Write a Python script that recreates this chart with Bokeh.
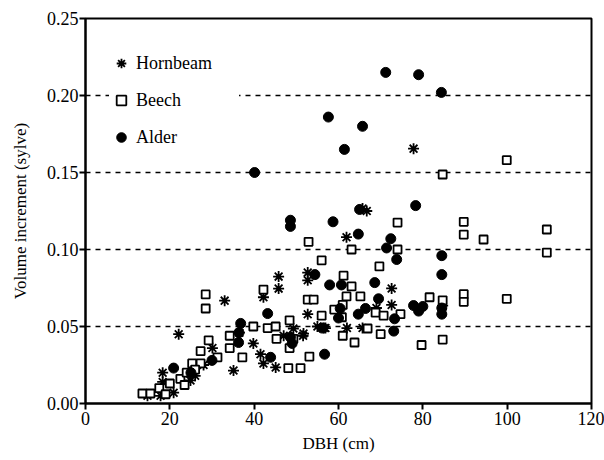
from bokeh.plotting import figure
from bokeh.models import Span, FixedTicker, PrintfTickFormatter, Legend, LegendItem, Range1d
from bokeh.embed import file_html
from bokeh.resources import INLINE

# Hornbeam
horn_x = [77.8, 65.7, 66.7, 61.9, 72.6, 72.6, 52.7, 52.7, 52.7, 56.5, 51.7, 65.7, 84.7, 45.8, 45.8,
          33.0, 22.1, 42.2, 36.5, 39.8, 41.5, 42.2, 45.1, 35.1, 30.1, 24.9, 18.3, 18.3, 20.9, 17.8,
          14.7, 49.3, 51.6, 56.9, 55.0, 62.0, 69.0, 47.0, 26.0, 28.0]
horn_y = [0.1655, 0.1266, 0.125, 0.108, 0.0747, 0.064, 0.085, 0.080, 0.058, 0.049, 0.0454, 0.049, 0.0636, 0.0824, 0.0746,
          0.0668, 0.045, 0.069, 0.046, 0.039, 0.032, 0.026, 0.0234, 0.0214, 0.036, 0.015, 0.020, 0.014, 0.007, 0.005,
          0.005, 0.0487, 0.044, 0.049, 0.050, 0.049, 0.062, 0.044, 0.018, 0.025]

# Beech
beech_x = [99.9, 84.7, 52.9, 56.0, 74.0, 89.7, 89.7, 94.4, 109.4, 109.4, 63.1, 74.0, 69.7, 61.2, 63.1,
           52.7, 54.1, 61.9, 65.2, 81.6, 84.7, 89.7, 89.7, 99.9, 61.0, 59.0, 60.8, 56.0, 68.8, 70.7,
           74.7, 66.9, 70.0, 61.0, 63.8, 79.7, 84.7, 53.1, 51.0, 48.1, 28.5, 28.5, 42.2, 48.4, 39.8,
           43.2, 45.1, 45.3, 48.4, 49.3, 34.2, 34.2, 37.2, 29.2, 27.3, 31.3, 25.3, 27.3, 13.5, 15.4,
           17.5, 20.0, 22.5, 24.0, 26.0, 19.0, 23.5]
beech_y = [0.158, 0.1487, 0.105, 0.093, 0.1175, 0.118, 0.1097, 0.1065, 0.113, 0.098, 0.100, 0.100, 0.089, 0.083, 0.076,
           0.0675, 0.0675, 0.0695, 0.0695, 0.069, 0.067, 0.071, 0.066, 0.068, 0.064, 0.061, 0.056, 0.057, 0.059, 0.057,
           0.058, 0.0487, 0.045, 0.044, 0.0396, 0.038, 0.0415, 0.0305, 0.023, 0.023, 0.0708, 0.0617, 0.074, 0.054, 0.050,
           0.049, 0.050, 0.042, 0.036, 0.042, 0.044, 0.036, 0.030, 0.041, 0.034, 0.030, 0.026, 0.026, 0.0065, 0.0065,
           0.010, 0.013, 0.016, 0.020, 0.022, 0.006, 0.012]

# Alder
alder_x = [71.2, 79.0, 84.4, 57.6, 65.7, 61.4, 40.1, 48.6, 48.6, 58.7, 78.3, 64.7, 65.0, 72.4, 71.4,
           73.8, 84.5, 84.5, 54.4, 57.9, 60.7, 68.6, 69.5, 66.4, 64.7, 60.4, 60.0, 56.1, 73.3, 73.1,
           77.8, 79.0, 80.0, 84.5, 84.5, 56.7, 43.2, 36.8, 36.4, 36.3, 43.9, 48.6, 49.0, 20.9, 25.0, 30.0]
alder_y = [0.215, 0.2135, 0.202, 0.186, 0.180, 0.165, 0.150, 0.119, 0.115, 0.118, 0.1285, 0.110, 0.126, 0.107, 0.101,
           0.0935, 0.096, 0.0837, 0.0837, 0.077, 0.077, 0.0785, 0.068, 0.0617, 0.058, 0.0617, 0.0555, 0.049, 0.055, 0.047,
           0.0636, 0.060, 0.063, 0.062, 0.058, 0.032, 0.0584, 0.052, 0.046, 0.0396, 0.030, 0.043, 0.039, 0.023, 0.020, 0.028]

x_ticks = [0, 20, 40, 60, 80, 100, 120]
y_ticks = [0.00, 0.05, 0.10, 0.15, 0.20, 0.25]
grid_levels = [0.05, 0.10, 0.15, 0.20]

FONT = "Liberation Serif"

p = figure(width=604, height=460, output_backend="svg", toolbar_location=None,
           x_range=Range1d(0, 120), y_range=Range1d(0, 0.25))
p.min_border_left = 85
p.min_border_right = 13
p.min_border_top = 18
p.min_border_bottom = 57
p.background_fill_color = "white"
p.border_fill_color = "white"
p.outline_line_color = "black"
p.outline_line_width = 2
p.xgrid.visible = False
p.ygrid.visible = False

for ax in (p.xaxis[0], p.yaxis[0]):
    ax.axis_line_width = 2
    ax.axis_line_color = "black"
    ax.major_tick_line_color = "black"
    ax.major_tick_line_width = 2
    ax.major_tick_out = 6
    ax.major_tick_in = 0
    ax.minor_tick_line_color = None
    ax.major_label_text_font = FONT
    ax.major_label_text_font_size = "18px"
    ax.major_label_text_color = "black"
    ax.axis_label_text_font = FONT
    ax.axis_label_text_font_size = "17px"
    ax.axis_label_text_font_style = "normal"
    ax.axis_label_text_color = "black"

p.xaxis.ticker = FixedTicker(ticks=x_ticks)
p.yaxis.ticker = FixedTicker(ticks=y_ticks)
p.yaxis.formatter = PrintfTickFormatter(format="%.2f")
p.xaxis.axis_label = "DBH (cm)"
p.yaxis.axis_label = "Volume increment (sylve)"
p.xaxis.axis_label_standoff = 6
p.xaxis.major_label_standoff = 2
p.yaxis.axis_label_standoff = 14
p.yaxis.major_label_standoff = 1

for lv in grid_levels:
    s = Span(location=lv, dimension="width", line_color="black", line_width=1.5,
             line_dash="5 5", level="underlay")
    p.add_layout(s)

r_h = p.scatter(horn_x, horn_y, marker="asterisk", size=11, line_color="black", line_width=1.8)
r_b = p.scatter(beech_x, beech_y, marker="square", size=8, fill_color="white", line_color="black", line_width=1.8)
r_a = p.scatter(alder_x, alder_y, marker="circle", size=10, fill_color="black", line_color="black")

legend = Legend(items=[LegendItem(label="Hornbeam", renderers=[r_h]),
                       LegendItem(label="Beech", renderers=[r_b]),
                       LegendItem(label="Alder", renderers=[r_a])],
                location=(24, 254))
legend.label_text_font = FONT
legend.label_text_font_size = "18px"
legend.label_text_color = "black"
legend.border_line_color = None
legend.background_fill_color = "white"
legend.background_fill_alpha = 1.0
legend.spacing = 13
legend.glyph_width = 24
legend.glyph_height = 24
legend.label_height = 24
legend.label_width = 103
legend.label_standoff = 3
legend.padding = 4
legend.margin = 0
p.add_layout(legend, "center")

open("out.html", "w").write(file_html(p, INLINE))
